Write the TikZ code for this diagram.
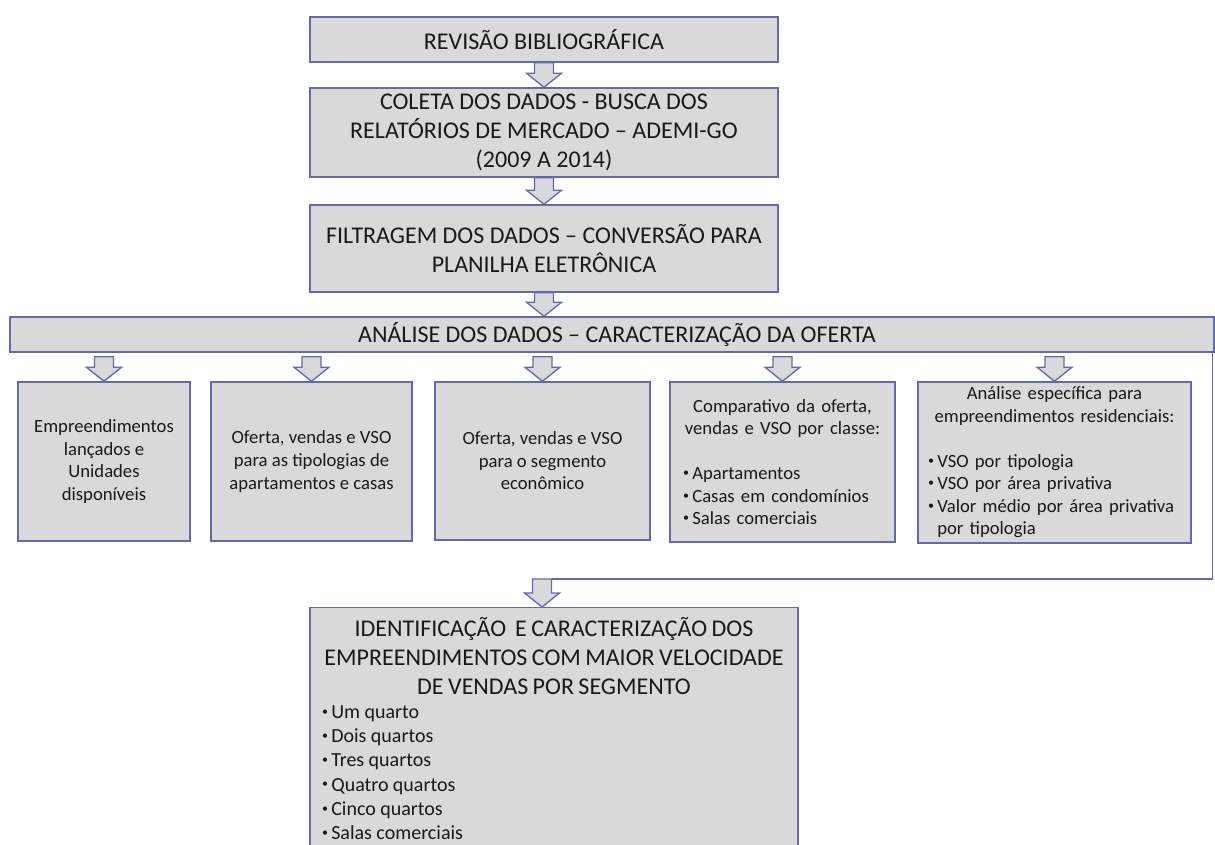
\documentclass[tikz,border=0pt]{standalone}
\usepackage{fontspec}
\setmainfont{Carlito}
\usetikzlibrary{calc}
\definecolor{bfill}{RGB}{217,217,217}
\definecolor{bline}{RGB}{102,102,178}
\definecolor{txt}{RGB}{25,25,25}
\newdimen\pxu \pxu=0.75pt
\newcommand\bigtxt{\fontsize{18pt}{21.5pt}\selectfont}
\newcommand\smalltxt{\fontsize{14pt}{16.9pt}\selectfont}
\newcommand\listtxt{\fontsize{15pt}{18.2pt}\selectfont}
\newcommand\bul{\raisebox{0.35ex}{\fontsize{9pt}{9pt}\selectfont•}\hspace{2.5pt}}
\newcommand\blockarrow[3]{%
  \filldraw[arrowst] let \p1=(#1), \p2=(#2), \p3=(#3) in
   (\x1-7.1pt,\y2) -- (\x1+7.1pt,\y2) -- (\x1+7.1pt,\y3+10.5pt) -- (\x1+13.1pt,\y3+10.5pt)
   -- (\x1,\y3) -- (\x1-13.1pt,\y3+10.5pt) -- (\x1-7.1pt,\y3+10.5pt) -- cycle;}
\tikzset{
  box/.style={draw=bline, fill=bfill, line width=1.1pt, inner sep=0pt, align=center, text=txt},
  arrowst/.style={draw=bline, fill=bfill, line width=1pt, line join=miter},
  conn/.style={draw=bline, line width=1.1pt}
}
\begin{document}
\begin{tikzpicture}[x=0.75pt,y=-0.75pt]
\useasboundingbox (0,0) rectangle (1215,844);
\begin{scope}
\clip (0,0) rectangle (1215,844);
% main column
\node[box, minimum width=468\pxu, minimum height=45\pxu, font=\bigtxt] (b1) at (544,39.5) {REVISÃO BIBLIOGRÁFICA};
\node[box, minimum width=468\pxu, minimum height=89\pxu, font=\bigtxt] (b2) at (544,132.5) {COLETA DOS DADOS - BUSCA DOS\\RELATÓRIOS DE MERCADO – ADEMI-GO\\(2009 A 2014)};
\node[box, minimum width=468\pxu, minimum height=87\pxu, font=\bigtxt] (b3) at (544,248.5) {FILTRAGEM DOS DADOS – CONVERSÃO PARA\\PLANILHA ELETRÔNICA};
\node[box, minimum width=1204\pxu, minimum height=35\pxu, font=\bigtxt] (bar) at (612,334.5) {\hspace{7.5pt}ANÁLISE DOS DADOS – CARACTERIZAÇÃO DA OFERTA};
% small boxes
\node[box, minimum width=172\pxu, minimum height=159\pxu, font=\smalltxt] (sa) at (104,461.5) {Empreendimentos\\lançados e\\Unidades\\disponíveis};
\node[box, minimum width=201\pxu, minimum height=159\pxu, font=\smalltxt] (sb) at (311.5,461.5) {Oferta, vendas e VSO\\para as tipologias de\\apartamentos e casas};
\node[box, minimum width=215\pxu, minimum height=158\pxu, font=\smalltxt] (sc) at (542.5,461) {Oferta, vendas e VSO\\para o segmento\\econômico};
\node[box, minimum width=225\pxu, minimum height=160\pxu, inner xsep=4\pxu, text width=217\pxu, align=left, font=\smalltxt] (sd) at (782.5,462)
 {\centering Comparativo da oferta,\\vendas e VSO por classe:\\[16.9pt]\par
  \raggedright\leftskip=9\pxu \bul Apartamentos\\\bul Casas em condomínios\\\bul Salas comerciais\par};
\node[box, minimum width=273\pxu, minimum height=161\pxu, inner xsep=4\pxu, text width=265\pxu, align=left, font=\smalltxt] (se) at (1054.5,462.5)
 {\centering Análise específica para\\empreendimentos residenciais:\\[16.9pt]\par
  \raggedright\leftskip=6\pxu \bul VSO por tipologia\\\bul VSO por área privativa\\\bul Valor médio por área privativa\\\hspace*{0pt}\phantom{\bul}por tipologia\par};
% final box
\node[box, anchor=north, minimum width=488\pxu, inner xsep=4\pxu, inner ysep=10\pxu, text width=480\pxu, align=left] (fin) at (554,607)
 {\centering\bigtxt IDENTIFICAÇÃO~ E CARACTERIZAÇÃO DOS\\EMPREENDIMENTOS COM MAIOR VELOCIDADE\\DE VENDAS POR SEGMENTO\par
  \raggedright\leftskip=8\pxu\listtxt \bul Um quarto\\\bul Dois quartos\\\bul Tres quartos\\\bul Quatro quartos\\\bul Cinco quartos\\\bul Salas comerciais\par\vspace{40pt}};
% block arrows
\blockarrow{b1.south}{b1.south}{b2.north}
\blockarrow{b2.south}{b2.south}{b3.north}
\blockarrow{b3.south}{b3.south}{bar.north}
\coordinate (bt) at ($(bar.south)+(0,4)$);
\blockarrow{sa.north}{bt}{sa.north}
\blockarrow{sb.north}{bt}{sb.north}
\blockarrow{sc.north}{bt}{sc.north}
\blockarrow{sd.north}{bt}{sd.north}
\blockarrow{se.north}{bt}{se.north}
% connector to final box
\coordinate (jr) at (551.5,579);
\coordinate (jn) at (542,579);
\coordinate (rc) at ($(bar.south east)+(-2,0)$);
\draw[conn] (rc) |- (jr);
\blockarrow{jn}{jn}{fin.north}
\end{scope}
\end{tikzpicture}
\end{document}
